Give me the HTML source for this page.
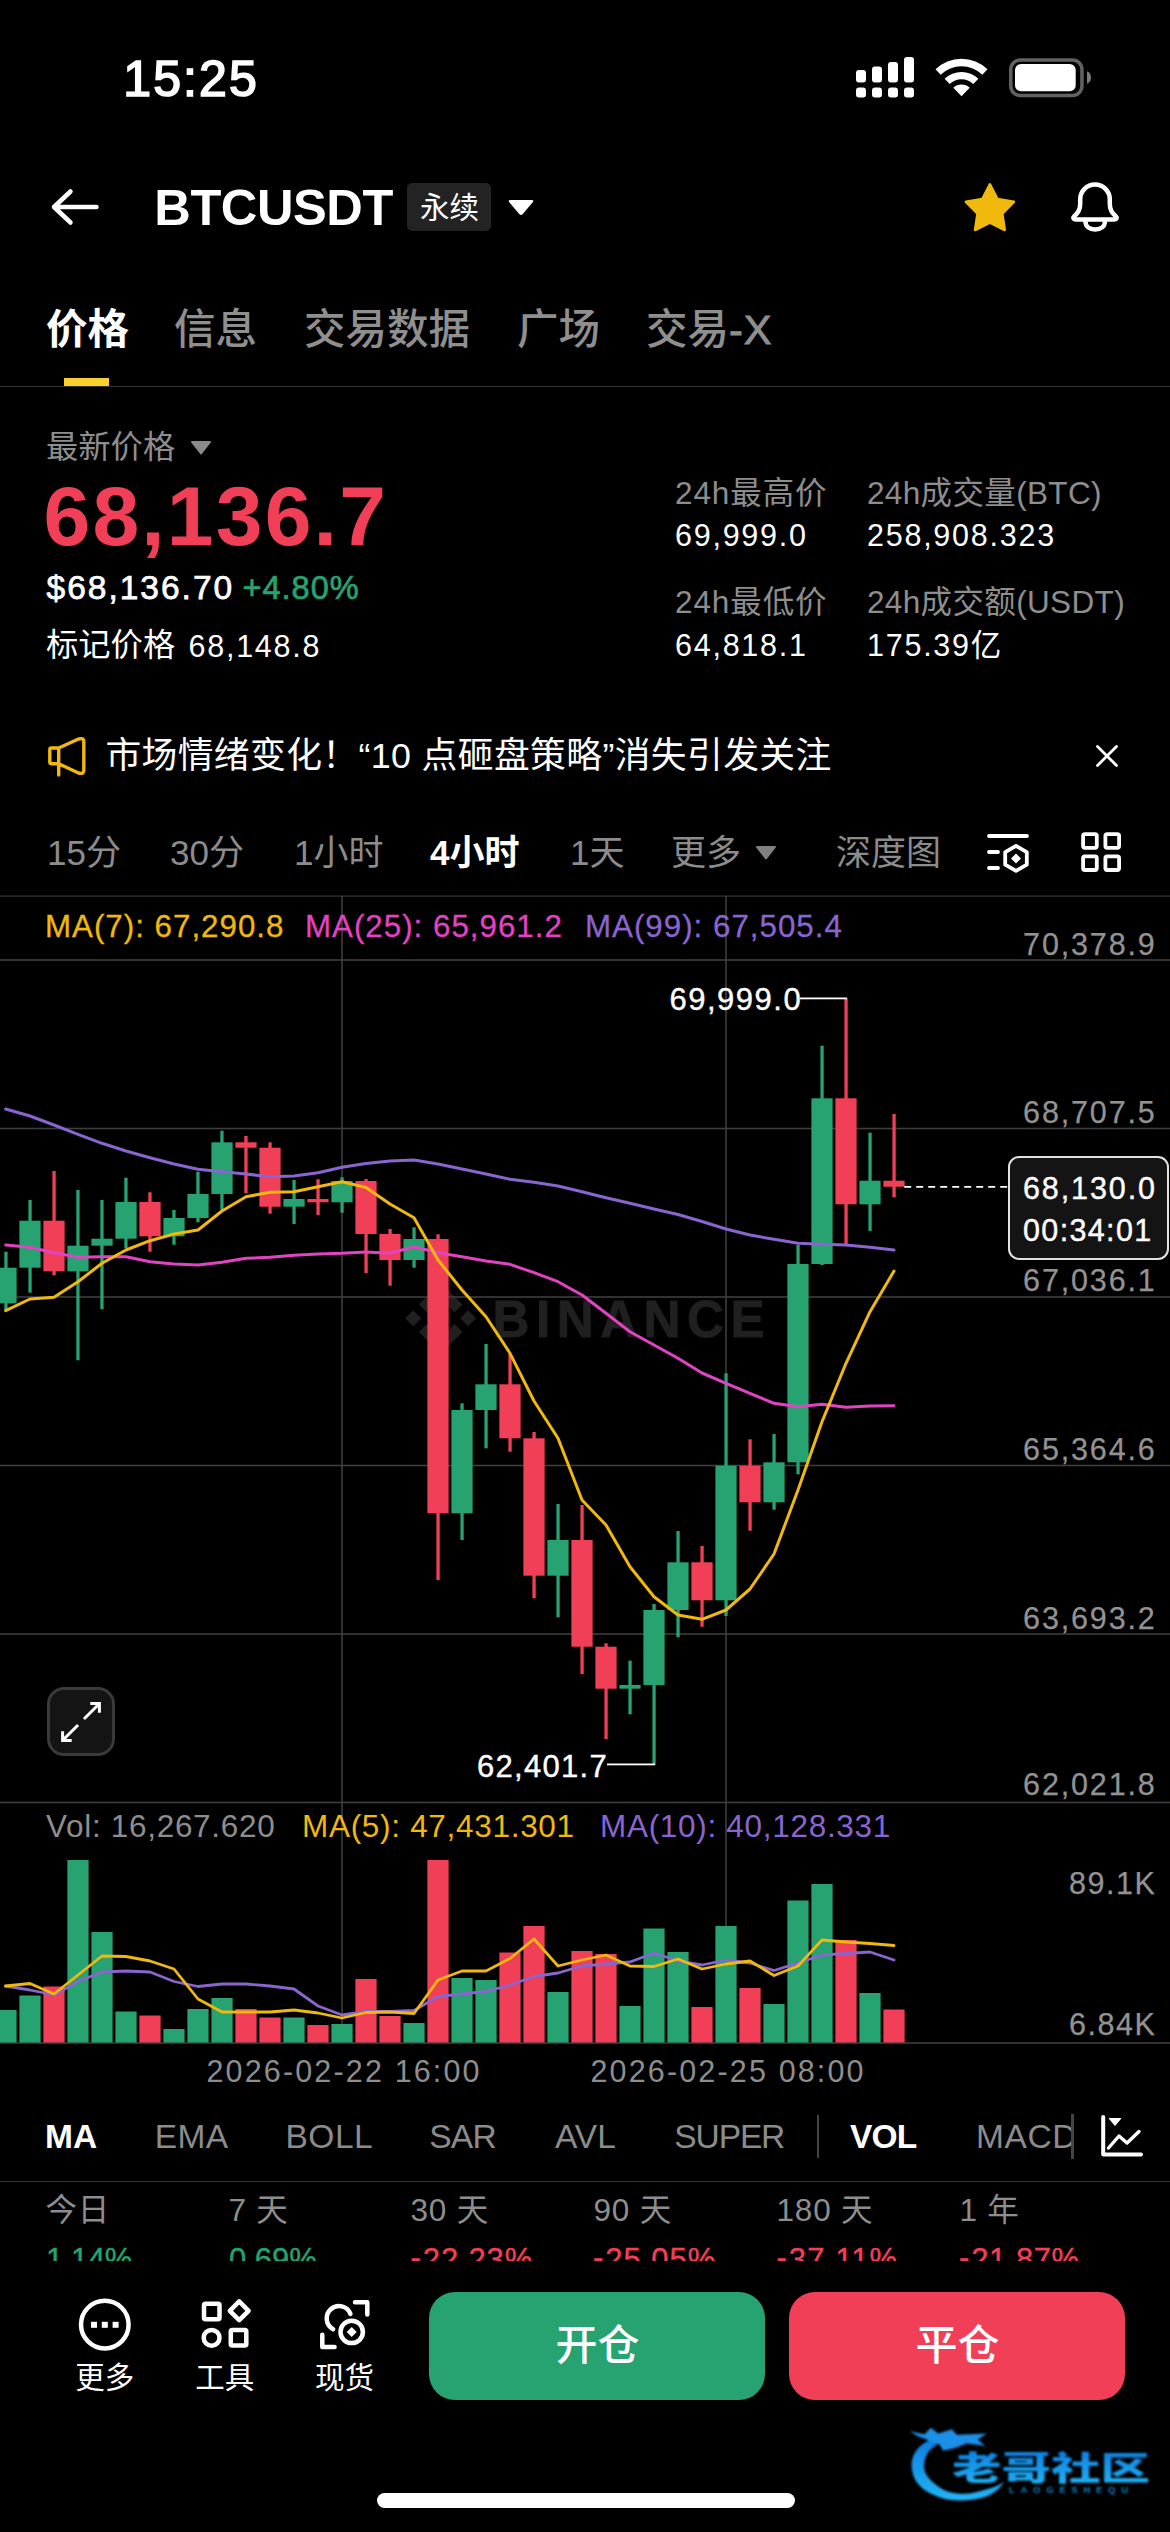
<!DOCTYPE html>
<html lang="zh-CN"><head><meta charset="utf-8"><title>BTCUSDT</title>
<style>
html,body{margin:0;padding:0;background:#000;}
body{width:1170px;height:2532px;position:relative;overflow:hidden;font-family:"Liberation Sans","Noto Sans CJK SC",sans-serif;color:#fff;}
.t{position:absolute;line-height:0;white-space:nowrap;}
.t::before{content:"";display:inline-block;height:100px;width:0;}
.abs{position:absolute;}
svg{position:absolute;left:0;top:0;overflow:visible;}
</style></head><body>

<div class="t" style="left:123.3px;top:-4.0px;font-size:50px;color:#fff;font-weight:400;letter-spacing:2.1px;-webkit-text-stroke:1.7px #fff">15:25</div>
<svg width="1170" height="140" viewBox="0 0 1170 140">
<g fill="#fff">
<rect x="856" y="87.5" width="10" height="10" rx="3"/><rect x="872" y="87.5" width="10" height="10" rx="3"/><rect x="888" y="87.5" width="10" height="10" rx="3"/><rect x="904" y="87.5" width="10" height="10" rx="3"/>
<rect x="856" y="70" width="10" height="12.5" rx="3"/><rect x="872" y="66.5" width="10" height="16" rx="3"/><rect x="888" y="62" width="10" height="20.5" rx="3"/><rect x="904" y="57" width="10" height="25.5" rx="3"/>
</g>
<path d="M935.5 69.3 A37.5 37.5 0 0 1 987.5 69.3 L982.3 74.7 A30.0 30.0 0 0 0 940.7 74.7 Z M944.6 78.7 A24.4 24.4 0 0 1 978.4 78.7 L973.3 84.1 A17.0 17.0 0 0 0 949.7 84.1 Z M953.3 87.8 A11.8 11.8 0 0 1 969.7 87.8 L961.5 96.3 Z" fill="#fff"/>
<rect x="1010.75" y="59.95" width="71.2" height="35.5" rx="9.5" fill="none" stroke="#616161" stroke-width="3.5"/>
<rect x="1015" y="64.1" width="60.7" height="27.1" rx="6" fill="#fff"/>
<path d="M1087 71.2 Q1091 73 1091 77.5 T1087 83.8 Z" fill="#7a7a7a"/>
</svg>
<svg width="1170" height="300" viewBox="0 0 1170 300">
<g fill="none" stroke="#fff" stroke-width="4.5" stroke-linecap="round" stroke-linejoin="round">
<path d="M96.5 207 H54 M70.5 191.5 L54 207 L70.5 222.5"/>
</g>
<rect x="407" y="183" width="84" height="48" rx="5" fill="#232323"/>
<path d="M510.5 200 H531.5 Q534.5 200 532.5 202.5 L522.8 214 Q521 216 519.2 214 L509.5 202.5 Q507.5 200 510.5 200 Z" fill="#fff"/>
<polygon points="989.9,184.4 997.5,199.1 1013.9,201.8 1002.3,213.6 1004.7,230.0 989.9,222.6 975.1,230.0 977.5,213.6 965.9,201.8 982.3,199.1" fill="#F0B90B" stroke="#F0B90B" stroke-width="2.6" stroke-linejoin="round"/>
<g fill="none" stroke="#fff" stroke-width="4.5" stroke-linecap="round" stroke-linejoin="round">
<path d="M1080.2 199.3 A14.8 14.8 0 0 1 1109.8 199.3 V204 C1109.8 210 1112 213 1115.5 216 C1117.5 217.800 1116.5 219.400 1114.5 219.400 H1075.5 C1073.5 219.400 1072.5 217.800 1074.5 216 C1078 213 1080.2 210 1080.2 204 Z"/>
<path d="M1085.4 221 C1085.4 226.500 1089.5 229.500 1095.2 229.500 C1100.900 229.500 1105 226.500 1105 221"/>
</g>
</svg>
<div class="t" style="left:154.3px;top:124.6px;font-size:50.6px;color:#fff;font-weight:700;letter-spacing:-0.45px;">BTCUSDT</div>
<div class="t" style="left:420.0px;top:117.5px;font-size:29.5px;color:#fff;font-weight:400;letter-spacing:0px;">永续</div>
<div class="t" style="left:46.0px;top:244.0px;font-size:41.5px;color:#fff;font-weight:700;letter-spacing:0px;">价格</div>
<div class="t" style="left:174.0px;top:244.0px;font-size:41.5px;color:#8f8f8f;font-weight:500;letter-spacing:0px;">信息</div>
<div class="t" style="left:304.0px;top:244.0px;font-size:41.5px;color:#8f8f8f;font-weight:500;letter-spacing:0px;">交易数据</div>
<div class="t" style="left:517.0px;top:244.0px;font-size:41.5px;color:#8f8f8f;font-weight:500;letter-spacing:0px;">广场</div>
<div class="t" style="left:646.0px;top:244.0px;font-size:41.5px;color:#8f8f8f;font-weight:500;letter-spacing:0px;">交易<span style="-webkit-text-stroke:0.9px #8f8f8f;letter-spacing:1px">-X</span></div>
<div class="abs" style="left:64px;top:378px;width:45px;height:8px;background:#F8D12F"></div>
<div class="abs" style="left:0;top:385.5px;width:1170px;height:1.5px;background:#323232"></div>
<div class="t" style="left:46.0px;top:358.0px;font-size:32.3px;color:#8e8e8e;font-weight:400;letter-spacing:0px;">最新价格</div>
<svg width="1170" height="700" viewBox="0 0 1170 700"><path d="M192 442 H210 L201 453.5 Z" fill="#8a8a8a" stroke="#8a8a8a" stroke-width="2" stroke-linejoin="round"/></svg>
<div class="t" style="left:43.5px;top:445.0px;font-size:84px;color:#F23F58;font-weight:700;letter-spacing:2.2px;">68,136.7</div>
<div class="t" style="left:46.5px;top:499.0px;font-size:33.5px;color:#fff;font-weight:400;letter-spacing:2.0px;-webkit-text-stroke:0.75px #fff">$68,136.70</div>
<div class="t" style="left:242.5px;top:499.0px;font-size:32.5px;color:#27A271;font-weight:400;letter-spacing:1.0px;-webkit-text-stroke:0.7px #27A271">+4.80%</div>
<div class="t" style="left:46.0px;top:556.3px;font-size:32.3px;color:#fff;font-weight:400;letter-spacing:0px;">标记价格</div>
<div class="t" style="left:188.5px;top:556.7px;font-size:30.5px;color:#fff;font-weight:400;letter-spacing:1.75px;">68,148.8</div>
<div class="t" style="left:675.0px;top:404.0px;font-size:31.5px;color:#8e8e8e;font-weight:400;letter-spacing:0.9px;">24h最高价</div>
<div class="t" style="left:675.0px;top:445.8px;font-size:30.5px;color:#fff;font-weight:400;letter-spacing:1.75px;">69,999.0</div>
<div class="t" style="left:867.0px;top:404.0px;font-size:31.5px;color:#8e8e8e;font-weight:400;letter-spacing:0.35px;">24h成交量(BTC)</div>
<div class="t" style="left:867.0px;top:445.8px;font-size:30.5px;color:#fff;font-weight:400;letter-spacing:1.75px;">258,908.323</div>
<div class="t" style="left:675.0px;top:513.3px;font-size:31.5px;color:#8e8e8e;font-weight:400;letter-spacing:0.9px;">24h最低价</div>
<div class="t" style="left:675.0px;top:555.6px;font-size:30.5px;color:#fff;font-weight:400;letter-spacing:1.75px;">64,818.1</div>
<div class="t" style="left:867.0px;top:513.3px;font-size:31.5px;color:#8e8e8e;font-weight:400;letter-spacing:0.35px;">24h成交额(USDT)</div>
<div class="t" style="left:867.0px;top:555.6px;font-size:30.5px;color:#fff;font-weight:400;letter-spacing:1.75px;">175.39亿</div>
<svg width="1170" height="900" viewBox="0 0 1170 900">
<g fill="none" stroke="#F0B90B" stroke-width="3.4" stroke-linejoin="round" stroke-linecap="round">
<path d="M58.7 748 H51.5 Q49.8 748 49.8 749.7 V762 Q49.8 763.700 51.5 763.700 H58.7 L78.5 773 Q83.8 774.500 83.8 770.500 V741.500 Q83.8 737.500 78.5 739 L58.7 748 V775"/>
</g>
<g fill="none" stroke="#fff" stroke-width="2.8" stroke-linecap="round"><path d="M1097.500 746.500 L1116.500 765.500 M1116.500 746.500 L1097.500 765.500"/></g>
</svg>
<div class="t" style="left:105.4px;top:668.3px;font-size:35.8px;color:#fff;font-weight:400;letter-spacing:0.36px;">市场情绪变化！“10 点砸盘策略”消失引发关注</div>
<div class="t" style="left:47.0px;top:764.5px;font-size:35px;color:#8c8c8c;font-weight:400;letter-spacing:0px;">15分</div>
<div class="t" style="left:170.0px;top:764.5px;font-size:35px;color:#8c8c8c;font-weight:400;letter-spacing:0px;">30分</div>
<div class="t" style="left:294.0px;top:764.5px;font-size:35px;color:#8c8c8c;font-weight:400;letter-spacing:0px;">1小时</div>
<div class="t" style="left:430.0px;top:764.5px;font-size:35px;color:#fff;font-weight:700;letter-spacing:0px;">4小时</div>
<div class="t" style="left:570.0px;top:764.5px;font-size:35px;color:#8c8c8c;font-weight:400;letter-spacing:0px;">1天</div>
<div class="t" style="left:671.0px;top:764.5px;font-size:35px;color:#8c8c8c;font-weight:400;letter-spacing:0px;">更多</div>
<div class="t" style="left:836.0px;top:764.5px;font-size:35px;color:#8c8c8c;font-weight:400;letter-spacing:0px;">深度图</div>
<svg width="1170" height="900" viewBox="0 0 1170 900">
<path d="M757 847 H775 L766 858.5 Z" fill="#808080" stroke="#808080" stroke-width="2" stroke-linejoin="round"/>
<g fill="none" stroke="#fff" stroke-width="3.8" stroke-linecap="round" stroke-linejoin="round">
<path d="M989 836 H1027 M989 852 H998 M989 868 H998"/>
<path d="M1016 845.9 L1026.8 852.15 V864.65 L1016 870.9 L1005.2 864.65 V852.15 Z"/>
<rect x="1083.1" y="834.2" width="13.7" height="13.7" rx="1.8"/><rect x="1105.4" y="834.2" width="13.7" height="13.7" rx="1.8"/>
<rect x="1083.1" y="856.3" width="13.7" height="13.7" rx="1.8"/><rect x="1105.4" y="856.3" width="13.7" height="13.7" rx="1.8"/>
</g>
<path d="M1016 853.500 L1021 858.500 L1016 863.500 L1011 858.500 Z" fill="#fff"/>
</svg>
<div class="t" style="left:492.5px;top:1236.7px;font-size:51.2px;font-weight:700;color:#202020;letter-spacing:6.5px;-webkit-text-stroke:0.9px #202020">BINANCE</div>
<svg width="1170" height="2532" viewBox="0 0 1170 2532"><g fill="#202020" transform="translate(405.2 1282.7) scale(0.561)">
<path d="M38.73 53.2l24.59-24.58 24.6 24.6 14.3-14.31L63.32 0l-38.9 38.9zM0 63.31l14.3-14.31 14.31 14.31-14.31 14.3zM38.73 73.41l24.59 24.59 24.6-24.6 14.31 14.29-38.9 38.91-38.91-38.88zM98 63.31l14.3-14.31 14.31 14.3-14.31 14.32zM77.83 63.3L63.32 48.78 52.59 59.51l-1.24 1.23-2.54 2.54 14.51 14.5 14.51-14.47z"/>
</g></svg>
<svg width="1170" height="2532" viewBox="0 0 1170 2532"><rect x="0" y="959.20" width="1170" height="1.6" fill="#3e3e3e"/>
<rect x="0" y="1127.70" width="1170" height="1.6" fill="#3e3e3e"/>
<rect x="0" y="1296.20" width="1170" height="1.6" fill="#3e3e3e"/>
<rect x="0" y="1464.70" width="1170" height="1.6" fill="#3e3e3e"/>
<rect x="0" y="1633.20" width="1170" height="1.6" fill="#3e3e3e"/>
<rect x="0" y="1801.70" width="1170" height="1.6" fill="#3e3e3e"/>
<rect x="0" y="2042.20" width="1170" height="1.6" fill="#3e3e3e"/>
<rect x="0" y="895.4" width="1170" height="1.4" fill="#303030"/>
<rect x="341.20" y="896" width="1.6" height="1147" fill="#3e3e3e"/>
<rect x="725.20" y="896" width="1.6" height="1147" fill="#3e3e3e"/>
<rect x="4.3" y="1251.7" width="3.3" height="58.3" fill="#27A271"/>
<rect x="-4.6" y="1267.7" width="21.2" height="35.6" fill="#27A271"/>
<rect x="-4.6" y="2010.0" width="21.2" height="32.5" fill="#27A271"/>
<rect x="28.4" y="1200.0" width="3.3" height="92.7" fill="#27A271"/>
<rect x="19.4" y="1220.7" width="21.2" height="47.0" fill="#27A271"/>
<rect x="19.4" y="1995.5" width="21.2" height="47.0" fill="#27A271"/>
<rect x="52.4" y="1171.0" width="3.3" height="104.3" fill="#F23F58"/>
<rect x="43.4" y="1220.7" width="21.2" height="50.6" fill="#F23F58"/>
<rect x="43.4" y="1986.5" width="21.2" height="56.0" fill="#F23F58"/>
<rect x="76.3" y="1190.0" width="3.3" height="170.3" fill="#27A271"/>
<rect x="67.4" y="1245.7" width="21.2" height="25.6" fill="#27A271"/>
<rect x="67.4" y="1860.0" width="21.2" height="182.5" fill="#27A271"/>
<rect x="100.3" y="1200.0" width="3.3" height="109.3" fill="#27A271"/>
<rect x="91.4" y="1238.7" width="21.2" height="7.0" fill="#27A271"/>
<rect x="91.4" y="1932.0" width="21.2" height="110.5" fill="#27A271"/>
<rect x="124.3" y="1177.7" width="3.3" height="70.6" fill="#27A271"/>
<rect x="115.4" y="1202.0" width="21.2" height="36.7" fill="#27A271"/>
<rect x="115.4" y="2011.5" width="21.2" height="31.0" fill="#27A271"/>
<rect x="148.3" y="1192.3" width="3.3" height="59.4" fill="#F23F58"/>
<rect x="139.4" y="1202.0" width="21.2" height="34.3" fill="#F23F58"/>
<rect x="139.4" y="2015.5" width="21.2" height="27.0" fill="#F23F58"/>
<rect x="172.3" y="1210.0" width="3.3" height="34.7" fill="#27A271"/>
<rect x="163.4" y="1218.0" width="21.2" height="18.3" fill="#27A271"/>
<rect x="163.4" y="2029.0" width="21.2" height="13.5" fill="#27A271"/>
<rect x="196.3" y="1171.7" width="3.3" height="50.6" fill="#27A271"/>
<rect x="187.4" y="1194.0" width="21.2" height="24.0" fill="#27A271"/>
<rect x="187.4" y="2009.0" width="21.2" height="33.5" fill="#27A271"/>
<rect x="220.3" y="1130.7" width="3.3" height="79.3" fill="#27A271"/>
<rect x="211.4" y="1142.3" width="21.2" height="51.7" fill="#27A271"/>
<rect x="211.4" y="1998.0" width="21.2" height="44.5" fill="#27A271"/>
<rect x="244.3" y="1136.0" width="3.3" height="57.3" fill="#F23F58"/>
<rect x="235.4" y="1142.3" width="21.2" height="5.4" fill="#F23F58"/>
<rect x="235.4" y="2009.0" width="21.2" height="33.5" fill="#F23F58"/>
<rect x="268.4" y="1142.3" width="3.3" height="71.4" fill="#F23F58"/>
<rect x="259.4" y="1147.7" width="21.2" height="59.0" fill="#F23F58"/>
<rect x="259.4" y="2017.5" width="21.2" height="25.0" fill="#F23F58"/>
<rect x="292.4" y="1180.0" width="3.3" height="44.0" fill="#27A271"/>
<rect x="283.4" y="1199.0" width="21.2" height="7.7" fill="#27A271"/>
<rect x="283.4" y="2017.5" width="21.2" height="25.0" fill="#27A271"/>
<rect x="316.4" y="1179.3" width="3.3" height="35.7" fill="#F23F58"/>
<rect x="307.4" y="1199.0" width="21.2" height="3.3" fill="#F23F58"/>
<rect x="307.4" y="2025.0" width="21.2" height="17.5" fill="#F23F58"/>
<rect x="340.4" y="1177.3" width="3.3" height="35.4" fill="#27A271"/>
<rect x="331.4" y="1181.0" width="21.2" height="21.3" fill="#27A271"/>
<rect x="331.4" y="2024.0" width="21.2" height="18.5" fill="#27A271"/>
<rect x="364.4" y="1179.0" width="3.3" height="94.0" fill="#F23F58"/>
<rect x="355.4" y="1181.0" width="21.2" height="53.0" fill="#F23F58"/>
<rect x="355.4" y="1979.0" width="21.2" height="63.5" fill="#F23F58"/>
<rect x="388.4" y="1229.0" width="3.3" height="56.7" fill="#F23F58"/>
<rect x="379.4" y="1234.0" width="21.2" height="26.0" fill="#F23F58"/>
<rect x="379.4" y="2016.0" width="21.2" height="26.5" fill="#F23F58"/>
<rect x="412.4" y="1227.3" width="3.3" height="40.4" fill="#27A271"/>
<rect x="403.4" y="1239.0" width="21.2" height="21.0" fill="#27A271"/>
<rect x="403.4" y="2023.0" width="21.2" height="19.5" fill="#27A271"/>
<rect x="436.4" y="1234.3" width="3.3" height="345.7" fill="#F23F58"/>
<rect x="427.4" y="1239.0" width="21.2" height="274.3" fill="#F23F58"/>
<rect x="427.4" y="1860.0" width="21.2" height="182.5" fill="#F23F58"/>
<rect x="460.4" y="1403.3" width="3.3" height="136.7" fill="#27A271"/>
<rect x="451.4" y="1410.0" width="21.2" height="103.3" fill="#27A271"/>
<rect x="451.4" y="1978.0" width="21.2" height="64.5" fill="#27A271"/>
<rect x="484.4" y="1344.0" width="3.3" height="104.3" fill="#27A271"/>
<rect x="475.4" y="1384.3" width="21.2" height="25.7" fill="#27A271"/>
<rect x="475.4" y="1980.0" width="21.2" height="62.5" fill="#27A271"/>
<rect x="508.4" y="1354.0" width="3.3" height="97.7" fill="#F23F58"/>
<rect x="499.4" y="1384.3" width="21.2" height="54.0" fill="#F23F58"/>
<rect x="499.4" y="1952.5" width="21.2" height="90.0" fill="#F23F58"/>
<rect x="532.4" y="1432.0" width="3.3" height="166.3" fill="#F23F58"/>
<rect x="523.4" y="1438.3" width="21.2" height="137.4" fill="#F23F58"/>
<rect x="523.4" y="1926.0" width="21.2" height="116.5" fill="#F23F58"/>
<rect x="556.4" y="1504.0" width="3.3" height="113.3" fill="#27A271"/>
<rect x="547.4" y="1540.0" width="21.2" height="35.7" fill="#27A271"/>
<rect x="547.4" y="1992.0" width="21.2" height="50.5" fill="#27A271"/>
<rect x="580.4" y="1505.0" width="3.3" height="169.0" fill="#F23F58"/>
<rect x="571.4" y="1540.0" width="21.2" height="106.7" fill="#F23F58"/>
<rect x="571.4" y="1951.0" width="21.2" height="91.5" fill="#F23F58"/>
<rect x="604.4" y="1643.3" width="3.3" height="95.7" fill="#F23F58"/>
<rect x="595.4" y="1646.7" width="21.2" height="42.0" fill="#F23F58"/>
<rect x="595.4" y="1954.0" width="21.2" height="88.5" fill="#F23F58"/>
<rect x="628.4" y="1660.7" width="3.3" height="53.6" fill="#27A271"/>
<rect x="619.4" y="1685.0" width="21.2" height="3.7" fill="#27A271"/>
<rect x="619.4" y="2006.0" width="21.2" height="36.5" fill="#27A271"/>
<rect x="652.4" y="1604.0" width="3.3" height="161.0" fill="#27A271"/>
<rect x="643.4" y="1610.0" width="21.2" height="75.0" fill="#27A271"/>
<rect x="643.4" y="1928.5" width="21.2" height="114.0" fill="#27A271"/>
<rect x="676.4" y="1531.0" width="3.3" height="106.3" fill="#27A271"/>
<rect x="667.4" y="1562.3" width="21.2" height="47.7" fill="#27A271"/>
<rect x="667.4" y="1952.0" width="21.2" height="90.5" fill="#27A271"/>
<rect x="700.4" y="1546.0" width="3.3" height="80.7" fill="#F23F58"/>
<rect x="691.4" y="1562.3" width="21.2" height="38.0" fill="#F23F58"/>
<rect x="691.4" y="2007.0" width="21.2" height="35.5" fill="#F23F58"/>
<rect x="724.4" y="1373.3" width="3.3" height="242.7" fill="#27A271"/>
<rect x="715.4" y="1465.7" width="21.2" height="134.6" fill="#27A271"/>
<rect x="715.4" y="1926.0" width="21.2" height="116.5" fill="#27A271"/>
<rect x="748.4" y="1439.3" width="3.3" height="91.4" fill="#F23F58"/>
<rect x="739.4" y="1465.7" width="21.2" height="36.6" fill="#F23F58"/>
<rect x="739.4" y="1988.0" width="21.2" height="54.5" fill="#F23F58"/>
<rect x="772.4" y="1434.0" width="3.3" height="75.7" fill="#27A271"/>
<rect x="763.4" y="1462.3" width="21.2" height="40.0" fill="#27A271"/>
<rect x="763.4" y="2004.0" width="21.2" height="38.5" fill="#27A271"/>
<rect x="796.4" y="1245.0" width="3.3" height="229.3" fill="#27A271"/>
<rect x="787.4" y="1264.0" width="21.2" height="198.3" fill="#27A271"/>
<rect x="787.4" y="1900.5" width="21.2" height="142.0" fill="#27A271"/>
<rect x="820.4" y="1045.7" width="3.3" height="219.3" fill="#27A271"/>
<rect x="811.4" y="1098.3" width="21.2" height="165.7" fill="#27A271"/>
<rect x="811.4" y="1884.0" width="21.2" height="158.5" fill="#27A271"/>
<rect x="844.4" y="998.3" width="3.3" height="245.7" fill="#F23F58"/>
<rect x="835.4" y="1098.3" width="21.2" height="106.0" fill="#F23F58"/>
<rect x="835.4" y="1940.0" width="21.2" height="102.5" fill="#F23F58"/>
<rect x="868.4" y="1132.7" width="3.3" height="98.3" fill="#27A271"/>
<rect x="859.4" y="1180.7" width="21.2" height="23.6" fill="#27A271"/>
<rect x="859.4" y="1993.0" width="21.2" height="49.5" fill="#27A271"/>
<rect x="892.4" y="1114.0" width="3.3" height="83.3" fill="#F23F58"/>
<rect x="883.4" y="1180.7" width="21.2" height="6.0" fill="#F23F58"/>
<rect x="883.4" y="2009.5" width="21.2" height="33.0" fill="#F23F58"/>
<polyline points="5.7,1109.0 30.0,1116.0 54.0,1125.0 78.0,1134.3 102.0,1143.3 126.0,1151.0 150.0,1157.7 174.0,1164.0 198.0,1169.3 222.0,1171.7 246.0,1174.0 270.0,1176.7 294.0,1176.0 318.0,1172.7 342.0,1167.3 366.0,1163.5 390.0,1161.0 414.0,1160.0 438.0,1164.0 462.0,1169.0 486.0,1174.0 510.0,1179.3 534.0,1182.3 558.0,1186.0 582.0,1191.7 606.0,1197.7 630.0,1203.3 654.0,1209.0 678.0,1214.5 702.0,1221.5 726.0,1229.0 750.0,1235.0 774.0,1239.3 798.0,1243.3 822.0,1244.3 846.0,1245.0 870.0,1247.3 894.0,1250.0" fill="none" stroke="#8A65D0" stroke-width="3.0" stroke-linejoin="round" stroke-linecap="round"/>
<polyline points="5.7,1245.0 30.0,1247.3 54.0,1252.7 78.0,1257.3 102.0,1256.7 126.0,1256.7 150.0,1261.7 174.0,1264.0 198.0,1265.0 222.0,1262.3 246.0,1258.3 270.0,1257.3 294.0,1255.3 318.0,1254.0 342.0,1253.3 366.0,1252.0 390.0,1253.3 414.0,1246.7 438.0,1252.7 462.0,1256.7 486.0,1261.0 510.0,1264.3 534.0,1272.7 558.0,1281.7 582.0,1295.0 606.0,1313.3 630.0,1331.7 654.0,1345.0 678.0,1358.3 702.0,1373.0 726.0,1383.3 750.0,1393.3 774.0,1403.3 798.0,1406.7 822.0,1404.3 846.0,1407.3 870.0,1406.0 894.0,1405.7" fill="none" stroke="#E143C3" stroke-width="3.0" stroke-linejoin="round" stroke-linecap="round"/>
<polyline points="5.7,1310.7 30.0,1299.0 54.0,1297.3 78.0,1281.7 102.0,1263.3 126.0,1250.0 150.0,1240.7 174.0,1234.0 198.0,1230.0 222.0,1211.0 246.0,1196.7 270.0,1192.3 294.0,1191.7 318.0,1186.7 342.0,1181.7 366.0,1187.5 390.0,1204.0 414.0,1217.7 438.0,1260.0 462.0,1290.0 486.0,1316.7 510.0,1353.3 534.0,1401.0 558.0,1438.3 582.0,1500.0 606.0,1525.0 630.0,1566.7 654.0,1596.7 678.0,1615.0 702.0,1619.3 726.0,1610.0 750.0,1589.0 774.0,1554.0 798.0,1490.0 822.0,1421.7 846.0,1363.3 870.0,1311.7 894.0,1271.0" fill="none" stroke="#F0B90B" stroke-width="3.0" stroke-linejoin="round" stroke-linecap="round"/>
<polyline points="5.5,1986.0 30.0,1990.0 54.0,1995.0 78.0,1981.5 102.0,1972.0 126.0,1971.0 150.0,1972.0 174.0,1981.5 198.0,1986.5 222.0,1984.0 246.0,1984.0 270.0,1986.0 294.0,1989.0 318.0,2006.0 342.0,2015.0 366.0,2011.5 390.0,2011.5 414.0,2010.5 438.0,1996.5 462.0,1994.0 486.0,1991.5 510.0,1985.0 534.0,1976.5 558.0,1973.0 582.0,1966.0 606.0,1964.0 630.0,1962.0 654.0,1953.0 678.0,1961.0 702.0,1965.0 726.0,1960.0 750.0,1963.0 774.0,1970.5 798.0,1963.0 822.0,1955.0 846.0,1953.5 870.0,1952.0 894.0,1960.0" fill="none" stroke="#8A65D0" stroke-width="2.8" stroke-linejoin="round" stroke-linecap="round"/>
<polyline points="5.5,1986.0 30.0,1983.5 54.0,1994.0 78.0,1975.0 102.0,1956.0 126.0,1956.5 150.0,1961.0 174.0,1969.0 198.0,1999.0 222.0,2012.0 246.0,2012.0 270.0,2012.0 294.0,2010.0 318.0,2013.0 342.0,2018.0 366.0,2012.5 390.0,2012.0 414.0,2013.5 438.0,1980.0 462.0,1971.0 486.0,1971.0 510.0,1958.5 534.0,1939.0 558.0,1966.0 582.0,1960.0 606.0,1955.0 630.0,1966.0 654.0,1966.5 678.0,1959.0 702.0,1969.0 726.0,1964.0 750.0,1961.0 774.0,1975.5 798.0,1966.0 822.0,1940.0 846.0,1942.0 870.0,1943.5 894.0,1945.5" fill="none" stroke="#F0B90B" stroke-width="2.8" stroke-linejoin="round" stroke-linecap="round"/>
<rect x="800" y="997.5" width="47" height="1.8" fill="#fff"/>
<rect x="607" y="1763.5" width="48" height="1.8" fill="#fff"/>
<line x1="904.2" y1="1186.9" x2="1008" y2="1186.9" stroke="#fff" stroke-width="1.9" stroke-dasharray="7 5"/></svg>
<div class="t" style="left:45.0px;top:836.5px;font-size:31.3px;color:#F0B90B;font-weight:400;letter-spacing:1.0px;-webkit-text-stroke:0.3px #F0B90B">MA(7): 67,290.8</div>
<div class="t" style="left:305.0px;top:836.5px;font-size:31.3px;color:#E143C3;font-weight:400;letter-spacing:1.0px;-webkit-text-stroke:0.3px #E143C3">MA(25): 65,961.2</div>
<div class="t" style="left:585.0px;top:836.5px;font-size:31.3px;color:#8A65D0;font-weight:400;letter-spacing:1.0px;-webkit-text-stroke:0.3px #8A65D0">MA(99): 67,505.4</div>
<div class="t" style="right:13.4px;top:854.5px;font-size:30.5px;color:#939393;font-weight:400;letter-spacing:1.85px;-webkit-text-stroke:0.25px #939393">70,378.9</div>
<div class="t" style="right:13.4px;top:1023.0px;font-size:30.5px;color:#939393;font-weight:400;letter-spacing:1.85px;-webkit-text-stroke:0.25px #939393">68,707.5</div>
<div class="t" style="right:13.4px;top:1191.3px;font-size:30.5px;color:#939393;font-weight:400;letter-spacing:1.85px;-webkit-text-stroke:0.25px #939393">67,036.1</div>
<div class="t" style="right:13.4px;top:1360.0px;font-size:30.5px;color:#939393;font-weight:400;letter-spacing:1.85px;-webkit-text-stroke:0.25px #939393">65,364.6</div>
<div class="t" style="right:13.4px;top:1528.5px;font-size:30.5px;color:#939393;font-weight:400;letter-spacing:1.85px;-webkit-text-stroke:0.25px #939393">63,693.2</div>
<div class="t" style="right:13.4px;top:1694.5px;font-size:30.5px;color:#939393;font-weight:400;letter-spacing:1.85px;-webkit-text-stroke:0.25px #939393">62,021.8</div>
<div class="t" style="right:13.7px;top:1793.5px;font-size:30.5px;color:#939393;font-weight:400;letter-spacing:1.5px;-webkit-text-stroke:0.25px #939393">89.1K</div>
<div class="t" style="right:13.7px;top:1934.5px;font-size:30.5px;color:#939393;font-weight:400;letter-spacing:1.5px;-webkit-text-stroke:0.25px #939393">6.84K</div>
<div class="t" style="left:669.5px;top:910.0px;font-size:31px;color:#fff;font-weight:400;letter-spacing:1.5px;-webkit-text-stroke:0.4px #fff">69,999.0</div>
<div class="t" style="left:477.0px;top:1677.0px;font-size:31px;color:#fff;font-weight:400;letter-spacing:1.3px;-webkit-text-stroke:0.4px #fff">62,401.7</div>
<div class="abs" style="left:1008px;top:1156.2px;width:161.2px;height:103.4px;box-sizing:border-box;border:2px solid #e2e2e2;border-radius:11px;background:#141414"></div>
<div class="t" style="left:1023.0px;top:1098.5px;font-size:30.5px;color:#fff;font-weight:400;letter-spacing:1.9px;-webkit-text-stroke:0.4px #fff">68,130.0</div>
<div class="t" style="left:1023.0px;top:1141.0px;font-size:30.5px;color:#fff;font-weight:400;letter-spacing:1.35px;-webkit-text-stroke:0.4px #fff">00:34:01</div>
<div class="abs" style="left:46.8px;top:1687.2px;width:68.6px;height:69.2px;box-sizing:border-box;border:3px solid #3a3a3a;border-radius:17px;background:#141414"></div>
<svg width="1170" height="2532" viewBox="0 0 1170 2532"><g fill="none" stroke="#fff" stroke-width="3" stroke-linecap="square" stroke-linejoin="miter">
<path d="M85 1718 L98.5 1704.5 M91.8 1703.6 H99.4 V1711.2"/>
<path d="M77 1726 L63.5 1739.5 M62.6 1732.8 V1740.4 H70.2"/>
</g></svg>
<div class="t" style="left:46.0px;top:1737.0px;font-size:31.5px;color:#8e8e8e;font-weight:400;letter-spacing:0.7px;">Vol: 16,267.620</div>
<div class="t" style="left:302.0px;top:1737.0px;font-size:31.5px;color:#F0B90B;font-weight:400;letter-spacing:0.7px;">MA(5): 47,431.301</div>
<div class="t" style="left:600.0px;top:1737.0px;font-size:31.5px;color:#8A65D0;font-weight:400;letter-spacing:0.7px;">MA(10): 40,128.331</div>
<div class="t" style="left:206.5px;top:1982.0px;font-size:30.5px;color:#8e8e8e;font-weight:400;letter-spacing:2.15px;">2026-02-22 16:00</div>
<div class="t" style="left:590.5px;top:1982.0px;font-size:30.5px;color:#8e8e8e;font-weight:400;letter-spacing:2.15px;">2026-02-25 08:00</div>
<div class="t" style="left:45.0px;top:2048.3px;font-size:33.5px;color:#fff;font-weight:700;letter-spacing:0px;">MA</div>
<div class="t" style="left:154.8px;top:2048.3px;font-size:33.5px;color:#8c8c8c;font-weight:400;letter-spacing:0.3px;">EMA</div>
<div class="t" style="left:285.5px;top:2048.3px;font-size:33.5px;color:#8c8c8c;font-weight:400;letter-spacing:0.5px;">BOLL</div>
<div class="t" style="left:429.3px;top:2048.3px;font-size:33.5px;color:#8c8c8c;font-weight:400;letter-spacing:-0.8px;">SAR</div>
<div class="t" style="left:555.0px;top:2048.3px;font-size:33.5px;color:#8c8c8c;font-weight:400;letter-spacing:0px;">AVL</div>
<div class="t" style="left:674.3px;top:2048.3px;font-size:33.5px;color:#8c8c8c;font-weight:400;letter-spacing:-1.1px;">SUPER</div>
<div class="t" style="left:850.0px;top:2048.3px;font-size:33.5px;color:#fff;font-weight:700;letter-spacing:-0.8px;">VOL</div>
<div class="abs" style="left:976px;top:2100px;width:95.5px;height:70px;overflow:hidden"><div class="t" style="left:0px;top:-51.7px;font-size:33.5px;color:#8c8c8c;letter-spacing:0.6px">MACD</div></div>
<div class="abs" style="left:816.5px;top:2115px;width:2.5px;height:43px;background:#444"></div>
<div class="abs" style="left:1071px;top:2114px;width:3px;height:45px;background:#444"></div>
<svg width="1170" height="2532" viewBox="0 0 1170 2532"><g fill="none" stroke="#fff" stroke-linecap="round" stroke-linejoin="round">
<path d="M1103.200 2117 V2154.500 H1141" stroke-width="4"/>
<path d="M1108.500 2148 L1119 2136 L1127 2143 L1139 2131.500" stroke-width="3.4"/>
</g><path d="M1109.500 2118.500 H1120.500 L1115 2125 Z" fill="#fff" stroke="#fff" stroke-width="1.200" stroke-linejoin="round"/></svg>
<div class="abs" style="left:0;top:2180.8px;width:1170px;height:1.6px;background:#333"></div>
<div class="t" style="left:45.5px;top:2121.0px;font-size:31.5px;color:#8e8e8e;font-weight:400;letter-spacing:0.8px;">今日</div>
<div class="t" style="left:228.5px;top:2121.0px;font-size:31.5px;color:#8e8e8e;font-weight:400;letter-spacing:0.8px;">7 天</div>
<div class="t" style="left:410.5px;top:2121.0px;font-size:31.5px;color:#8e8e8e;font-weight:400;letter-spacing:0.8px;">30 天</div>
<div class="t" style="left:593.5px;top:2121.0px;font-size:31.5px;color:#8e8e8e;font-weight:400;letter-spacing:0.8px;">90 天</div>
<div class="t" style="left:776.5px;top:2121.0px;font-size:31.5px;color:#8e8e8e;font-weight:400;letter-spacing:0.8px;">180 天</div>
<div class="t" style="left:959.5px;top:2121.0px;font-size:31.5px;color:#8e8e8e;font-weight:400;letter-spacing:0.8px;">1 年</div>
<div class="abs" style="left:0;top:2200px;width:1170px;height:61.3px;overflow:hidden">
<div class="t" style="left:46.0px;top:-29.7px;font-size:31px;color:#27A271;-webkit-text-stroke:0.4px #27A271;letter-spacing:-0.4px">1.14%</div>
<div class="t" style="left:229.0px;top:-29.7px;font-size:31px;color:#27A271;-webkit-text-stroke:0.4px #27A271;letter-spacing:0px">0.69%</div>
<div class="t" style="left:410.5px;top:-29.7px;font-size:31px;color:#F23F58;-webkit-text-stroke:0.4px #F23F58;letter-spacing:0.85px"><span style="position:relative;top:-2px;letter-spacing:2px">-</span>22.23%</div>
<div class="t" style="left:593.0px;top:-29.7px;font-size:31px;color:#F23F58;-webkit-text-stroke:0.4px #F23F58;letter-spacing:0.95px"><span style="position:relative;top:-2px;letter-spacing:2px">-</span>25.05%</div>
<div class="t" style="left:776.5px;top:-29.7px;font-size:31px;color:#F23F58;-webkit-text-stroke:0.4px #F23F58;letter-spacing:1.1px"><span style="position:relative;top:-2px;letter-spacing:2px">-</span>37.11%</div>
<div class="t" style="left:959.0px;top:-29.7px;font-size:31px;color:#F23F58;-webkit-text-stroke:0.4px #F23F58;letter-spacing:0.5px"><span style="position:relative;top:-2px;letter-spacing:2px">-</span>21.87%</div>
</div>
<div class="abs" style="left:429px;top:2292px;width:336px;height:108px;border-radius:26px;background:#27A271"></div>
<div class="abs" style="left:789.2px;top:2292px;width:336px;height:108px;border-radius:26px;background:#F23F58"></div>
<div class="t" style="left:555.5px;top:2260.3px;font-size:42px;color:#fff;font-weight:500;letter-spacing:0px;">开仓</div>
<div class="t" style="left:915.5px;top:2260.3px;font-size:42px;color:#fff;font-weight:500;letter-spacing:0px;">平仓</div>
<svg width="1170" height="2532" viewBox="0 0 1170 2532">
<g fill="none" stroke="#fff" stroke-width="4.500" stroke-linejoin="round">
<circle cx="104.800" cy="2324.600" r="23.800"/>
<rect x="204" y="2303.700" width="15.500" height="15.500" rx="1.500"/>
<path d="M239.200 2301.400 L248.600 2310.800 L239.200 2320.200 L229.800 2310.800 Z"/>
<circle cx="211.600" cy="2337.800" r="7.900"/>
<rect x="230.800" y="2330" width="15.500" height="15.500" rx="1.500"/>
</g>
<g fill="#fff"><rect x="91" y="2321.800" width="6" height="6"/><rect x="101.800" y="2321.800" width="6" height="6"/><rect x="112.600" y="2321.800" width="6" height="6"/></g>
<g fill="none" stroke="#fff" stroke-width="4.500" stroke-linejoin="round" stroke-linecap="round">
<path d="M355 2302.300 H367.3 V2314.6"/>
<path d="M322.3 2334.8 V2346.9 H334.6"/>
<path d="M350.4 2313.8 A12.3 12.3 0 1 0 333.1 2329.2"/>
<circle cx="351.700" cy="2331.900" r="11.200"/>
</g>
<path d="M351.700 2326.900 L356.700 2331.900 L351.700 2336.900 L346.700 2331.900 Z" fill="#fff"/>
</svg>
<div class="t" style="left:75.3px;top:2288.0px;font-size:29.5px;color:#fff;font-weight:400;letter-spacing:0px;">更多</div>
<div class="t" style="left:195.3px;top:2288.0px;font-size:29.5px;color:#fff;font-weight:400;letter-spacing:0px;">工具</div>
<div class="t" style="left:315.0px;top:2288.0px;font-size:29.5px;color:#fff;font-weight:400;letter-spacing:0px;">现货</div>
<div class="abs" style="left:376.5px;top:2492.7px;width:418px;height:15.8px;border-radius:8px;background:#fff"></div>
<svg width="1170" height="2532" viewBox="0 0 1170 2532">
<defs><linearGradient id="lg" x1="0" y1="0" x2="0" y2="1"><stop offset="0" stop-color="#0d7fe0"/><stop offset="1" stop-color="#22b4f5"/></linearGradient>
<filter id="bl"><feGaussianBlur stdDeviation="0.800"/></filter></defs>
<g filter="url(#bl)">
<path d="M929.6 2439.7 C915 2447 911 2458 911.7 2466.9 C912.5 2480 920 2488 929.6 2493 C940 2498.5 950 2500.8 961.8 2500.4 C973 2500 982 2498.5 989 2495.4 C996 2492 1001 2487.5 1004 2481.8 C998 2486 993 2487.8 986.6 2489.2 C978 2492 970 2493.9 961.8 2493.7 C951 2493.5 943 2490.5 937 2485.5 C929 2479 924.3 2474 924.1 2466.9 C924 2459 927 2452 933.3 2447.1 L940.7 2442.1 Z" fill="url(#lg)"/>
<polygon points="909.7,2431.2 924.6,2434.2 930.8,2427.8 938.3,2433.5 951.9,2429.3 956.8,2434.7 986.6,2433.5 977.9,2439.7 985.4,2445.9 966.8,2443.4 954.4,2448.3 943.2,2450.8 939.5,2444.6 927.1,2439.7 917.2,2435.9" fill="#1b8fe6"/>
<text x="952" y="2480" font-family="'Liberation Sans','Noto Sans CJK SC',sans-serif" font-weight="900" font-size="33" fill="url(#lg)" textLength="198" lengthAdjust="spacingAndGlyphs">老哥社区</text>
<text x="1009" y="2493" font-family="'Liberation Sans',sans-serif" font-weight="700" font-size="9.5" fill="#1583cc" textLength="119" lengthAdjust="spacing">LAOGESHEQU</text>
</g></svg>
</body></html>
